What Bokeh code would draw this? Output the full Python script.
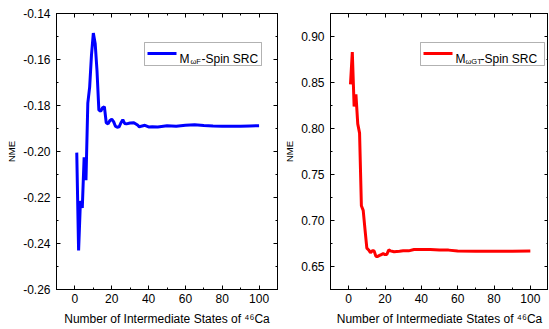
from bokeh.plotting import figure
from bokeh.layouts import row
from bokeh.models import (LinearAxis, SingleIntervalTicker, NumeralTickFormatter, Range1d,
                          Label, BoxAnnotation, Arrow)
from bokeh.embed import file_html
from bokeh.resources import INLINE

# ---------------- data ----------------
f_x = [1, 2, 3, 4, 5, 6, 7, 8, 9, 10, 11, 12, 13, 14, 15, 16, 17, 18, 19, 20,
       21, 22, 23, 24, 25, 26, 27, 28, 30, 32, 34, 35, 36, 38, 40, 42, 45, 48, 50,
       55, 60, 65, 70, 75, 80, 85, 90, 95, 100]
f_nme = [-0.2005, -0.2430, -0.2215, -0.2245, -0.2025, -0.2125, -0.1790, -0.1720, -0.1580, -0.1485,
         -0.1530, -0.1650, -0.1820, -0.1825, -0.1810, -0.1805, -0.1875, -0.1880, -0.1865, -0.1860,
         -0.1870, -0.1890, -0.1895, -0.1893, -0.1875, -0.1862, -0.1878, -0.1880, -0.1876, -0.1875,
         -0.1885, -0.1893, -0.1890, -0.1886, -0.1893, -0.1892, -0.1893, -0.1890, -0.1888,
         -0.1890, -0.1886, -0.1884, -0.1887, -0.1889, -0.1890, -0.1890, -0.1890, -0.1889, -0.1888]

gt_x = [1, 2, 3, 4, 5, 6, 7, 8, 9, 10, 11, 12, 13, 14, 15, 16, 17, 18, 19, 20,
        21, 22, 23, 25, 28, 30, 33, 36, 40, 45, 50, 55, 60, 70, 80, 90, 100]
gt_nme = [0.848, 0.883, 0.824, 0.837, 0.805, 0.795, 0.716, 0.711, 0.690, 0.670,
          0.668, 0.665, 0.667, 0.667, 0.661, 0.661, 0.662, 0.663, 0.664, 0.663,
          0.663, 0.668, 0.667, 0.666, 0.6665, 0.667, 0.667, 0.6685, 0.6685, 0.6685,
          0.668, 0.6678, 0.6668, 0.6665, 0.6665, 0.6665, 0.6668]

x_label = "Number of Intermediate States of \u2074\u2076Ca"
y_label = "NME"

FONT = "Liberation Sans"


def make_fig(width, bl, br, y_start, y_end, y_interval):
    p = figure(width=width, height=328, output_backend="svg", toolbar_location=None,
               x_range=Range1d(-10, 110), y_range=Range1d(y_start, y_end),
               min_border_left=bl, min_border_right=br, min_border_top=13, min_border_bottom=38,
               x_axis_type=None, y_axis_type=None)
    p.background_fill_color = "white"
    p.border_fill_color = "white"
    p.outline_line_color = "black"
    p.outline_line_width = 1
    p.xgrid.visible = False
    p.ygrid.visible = False
    xt = SingleIntervalTicker(interval=20, num_minor_ticks=2)
    yt = SingleIntervalTicker(interval=y_interval, num_minor_ticks=2)
    for loc, is_x, shown in (("below", True, True), ("above", True, False),
                             ("left", False, True), ("right", False, False)):
        ax = LinearAxis(ticker=xt if is_x else yt)
        if not is_x:
            ax.formatter = NumeralTickFormatter(format="0.00")
        ax.major_tick_in = 4
        ax.major_tick_out = 0
        ax.minor_tick_in = 2
        ax.minor_tick_out = 0
        ax.axis_line_color = "black"
        ax.major_tick_line_color = "black"
        ax.minor_tick_line_color = "black"
        if shown:
            ax.major_label_text_font = FONT
            ax.major_label_text_font_size = "12px"
            ax.major_label_text_color = "black"
            ax.axis_label_text_font = FONT
            ax.axis_label_text_font_style = "normal"
            ax.axis_label_text_color = "black"
            if is_x:
                ax.axis_label = x_label
                ax.axis_label_text_font_size = "12px"
                ax.major_label_standoff = 4
                ax.axis_label_standoff = 6
            else:
                ax.axis_label = y_label
                ax.axis_label_text_font_size = "9.5px"
                ax.major_label_standoff = 6
                ax.axis_label_standoff = 3
        else:
            ax.major_label_text_font_size = "0px"
            ax.major_label_text_color = None
            ax.major_label_standoff = 0
        p.add_layout(ax, loc)
    return p


def add_legend(p, bx0, bx1, sub, color, m_x, sub_x, rest_x):
    p.add_layout(BoxAnnotation(left=bx0, right=bx1, bottom=224, top=247,
                               left_units="screen", right_units="screen",
                               bottom_units="screen", top_units="screen",
                               fill_color="white", fill_alpha=1.0,
                               line_color="black", line_width=1))
    p.add_layout(Arrow(x_start=bx0 + 3, x_end=bx0 + 32, y_start=236, y_end=236,
                       start_units="screen", end_units="screen",
                       start=None, end=None, line_color=color, line_width=3))
    common = dict(x_units="screen", y_units="screen", text_font=FONT,
                  text_color="black", text_baseline="alphabetic")
    p.add_layout(Label(x=m_x, y=231, text="M", text_font_size="12px", **common))
    p.add_layout(Label(x=sub_x, y=228, text=sub, text_font_size="7.5px", **common))
    p.add_layout(Label(x=rest_x, y=231, text="-Spin SRC", text_font_size="12px", **common))


p1 = make_fig(281, 56, 4, -0.26, -0.14, 0.02)
p1.line(f_x, f_nme, line_color="#0000FF", line_width=3)
add_legend(p1, 88, 205, "\u03c9F", "#0000FF", 123, 134, 145)

p2 = make_fig(267, 45, 0, 0.625, 0.925, 0.05)
p2.line(gt_x, gt_nme, line_color="#FF0000", line_width=3)
add_legend(p2, 90, 214, "\u03c9GT", "#FF0000", 125, 135, 150)

layout = row(p1, p2)
open("out.html", "w").write(file_html(layout, INLINE))
